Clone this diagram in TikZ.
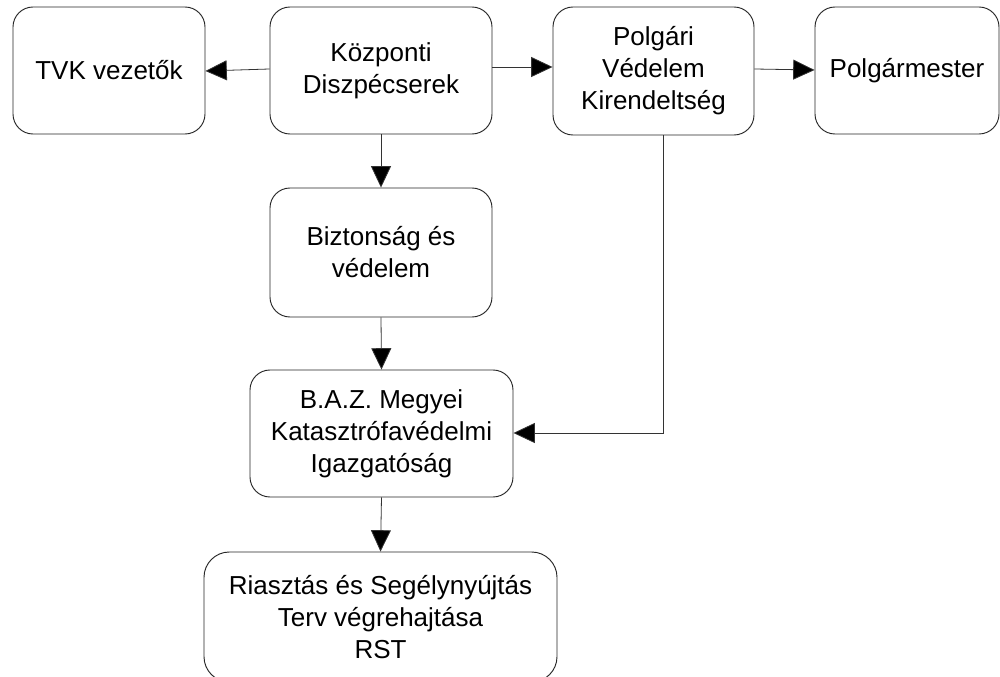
\documentclass[tikz,border=0pt]{standalone}
\usepackage{fontspec}
\setmainfont{Liberation Sans}
\usetikzlibrary{arrows.meta}
\begin{document}
\begin{tikzpicture}[x=0.75pt,y=-0.75pt,
  box/.style={draw=black!85,line width=0.7pt,rounded corners=15pt,inner sep=0pt,
    align=center,font=\fontsize{19.5pt}{24pt}\selectfont},
  conn/.style={draw=black!80,line width=0.6pt,-{Triangle[length=16pt,width=15pt,fill=black]}}]
\clip (0,0) rectangle (1000,677);
\fill[white] (0,0) rectangle (1000,677);
\node[box,minimum width=192*0.75pt,minimum height=127*0.75pt] (tvk) at (109,70.5) {TVK vezetők};
\node[box,minimum width=222*0.75pt,minimum height=127*0.75pt] (kozp) at (381,70.5) {Központi\\Diszpécserek};
\node[box,minimum width=201*0.75pt,minimum height=128*0.75pt] (polg) at (653.5,71) {Polgári\\Védelem\\Kirendeltség};
\node[box,minimum width=184*0.75pt,minimum height=127*0.75pt] (pm) at (907,70.5) {Polgármester};
\node[box,minimum width=222*0.75pt,minimum height=129*0.75pt] (bizt) at (381,252.5) {Biztonság és\\ védelem};
\node[box,minimum width=263*0.75pt,minimum height=127*0.75pt] (baz) at (381.5,433.5) {B.A.Z. Megyei\\Katasztrófavédelmi\\Igazgatóság};
\node[box,minimum width=353*0.75pt,minimum height=130*0.75pt,rounded corners=19pt] (rst) at (380.5,617) {Riasztás és Segélynyújtás\\Terv végrehajtása\\RST};
\coordinate (corner) at (663,433);
\draw[conn] (kozp.west |- 0,69) -- (tvk.east |- 0,71);
\draw[conn] (kozp.east |- 0,67) -- (polg.west |- 0,67);
\draw[conn] (polg.east |- 0,69) -- (pm.west |- 0,70);
\draw[conn] (kozp.south) -- (bizt.north);
\draw[conn] (bizt.south) -- (baz.north);
\draw[conn] (baz.south) -- (rst.north);
\draw[conn] (polg.south -| corner) -- (corner) -- (baz.east |- corner);
\end{tikzpicture}
\end{document}
